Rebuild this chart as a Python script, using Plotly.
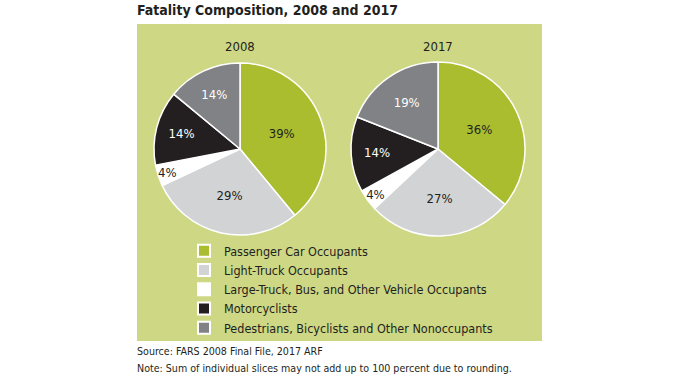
import plotly.graph_objects as go

categories = ["Passenger Car Occupants", "Light-Truck Occupants",
              "Large-Truck, Bus, and Other Vehicle Occupants", "Motorcyclists",
              "Pedestrians, Bicyclists and Other Nonoccupants"]
values_2008 = [39, 29, 4, 14, 14]
values_2017 = [36, 27, 4, 14, 19]
years = ["2008", "2017"]

colors = ["#a9bd2f", "#d1d3d4", "#ffffff", "#231f20", "#808285"]
text_colors = ["#231f20", "#231f20", "#231f20", "#ffffff", "#ffffff"]
FONT = "DejaVu Sans Condensed, Liberation Sans Narrow, Arial Narrow, sans-serif"
INK = "#231f20"

W, H = 676, 380
def px_x(x): return x / W
def px_y(y): return 1 - y / H

domains = [
    dict(x=[px_x(154), px_x(326)], y=[px_y(235), px_y(63)]),
    dict(x=[px_x(351), px_x(525)], y=[px_y(236), px_y(62)]),
]
year_label_x = [240, 438]

fig = go.Figure()
for i, (vals, yr) in enumerate(zip([values_2008, values_2017], years)):
    fig.add_trace(go.Pie(
        labels=categories, values=vals, sort=False, direction="clockwise",
        rotation=0, domain=domains[i], name=yr,
        marker=dict(colors=colors, line=dict(color="#ffffff", width=1.5)),
        texttemplate="%{value}%", textinfo="text",
        textposition="inside", insidetextorientation="horizontal",
        textfont=dict(family=FONT, size=13, color=text_colors),
        hoverinfo="label+value", showlegend=(i == 0),
    ))
    fig.add_annotation(text=yr, x=px_x(year_label_x[i]), y=px_y(46), xref="paper", yref="paper",
                       xanchor="center", yanchor="middle",
                       showarrow=False, font=dict(family=FONT, size=13, color=INK))

fig.add_shape(type="rect", xref="paper", yref="paper",
              x0=px_x(137), x1=px_x(542), y0=px_y(341), y1=px_y(24),
              fillcolor="#cdd784", line_width=0, layer="below")

fig.add_annotation(text="<b>Fatality Composition, 2008 and 2017</b>", x=px_x(135), y=px_y(10),
                   xref="paper", yref="paper", xanchor="left", yanchor="middle", showarrow=False,
                   font=dict(family=FONT, size=14, color=INK))
fig.add_annotation(text="Source: FARS 2008 Final File, 2017 ARF",
                   x=px_x(135), y=px_y(351), xref="paper", yref="paper", xanchor="left",
                   yanchor="middle", showarrow=False, font=dict(family=FONT, size=10.6, color=INK))
fig.add_annotation(text="Note: Sum of individual slices may not add up to 100 percent due to rounding.",
                   x=px_x(135), y=px_y(368), xref="paper", yref="paper", xanchor="left",
                   yanchor="middle", showarrow=False, font=dict(family=FONT, size=10.6, color=INK))

fig.update_layout(
    width=W, height=H, margin=dict(l=0, r=0, t=0, b=0),
    paper_bgcolor="#ffffff", plot_bgcolor="#ffffff",
    uniformtext=dict(minsize=13, mode="show"),
    legend=dict(x=px_x(184), y=px_y(236), xanchor="left", yanchor="top",
                bgcolor="rgba(0,0,0,0)", font=dict(family=FONT, size=12.5, color=INK),
                tracegroupgap=0, itemsizing="constant"),
)

fig.write_html("out.html", config={"displayModeBar": False},
               post_script="document.body.style.margin='0';")
